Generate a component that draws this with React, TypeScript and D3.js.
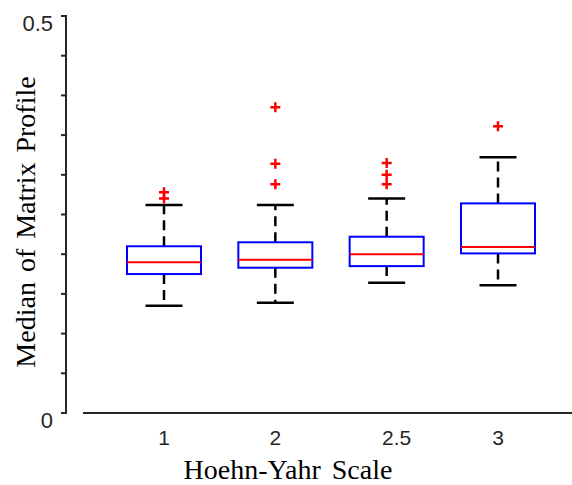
import React, { useEffect, useRef } from "react";
import * as d3 from "d3";

// Hoehn-Yahr stage groups
const categories = ["1", "2", "2.5", "3"];
// box stats
const whiskerLow = [0.135, 0.139, 0.164, 0.161];
const q1 = [0.175, 0.183, 0.185, 0.201];
const medians = [0.19, 0.193, 0.2, 0.209];
const q3 = [0.21, 0.215, 0.222, 0.264];
const whiskerHigh = [0.262, 0.262, 0.27, 0.322];
const outliers = [
  [0.27, 0.278],
  [0.288, 0.314, 0.385],
  [0.288, 0.3, 0.315],
  [0.361],
];
const yTicks = [0, 0.05, 0.1, 0.15, 0.2, 0.25, 0.3, 0.35, 0.4, 0.45, 0.5];
const yTickLabels = ["0", "0.5"];

const App = () => {
  const ref = useRef<SVGSVGElement>(null);

  useEffect(() => {
    const svg = d3.select(ref.current);
    svg.selectAll("*").remove();

    const x = d3.scalePoint().domain(categories).range([164, 498]);
    const y = d3.scaleLinear().domain([0, 0.5]).range([413, 16]);
    const boxW = 74;
    const capW = 37;

    // y axis
    svg
      .append("line")
      .attr("x1", 66)
      .attr("x2", 66)
      .attr("y1", y(0) + 1)
      .attr("y2", y(0.5) - 1)
      .style("stroke", "#262626")
      .style("stroke-width", 2);
    yTicks.forEach((t) => {
      svg
        .append("line")
        .attr("x1", 61)
        .attr("x2", 66)
        .attr("y1", y(t))
        .attr("y2", y(t))
        .style("stroke", "#262626")
        .style("stroke-width", 2);
    });
    svg
      .append("g")
      .selectAll("text")
      .data(yTickLabels)
      .join("text")
      .attr("x", 53)
      .attr("y", (d) => y(+d) + 15)
      .style("text-anchor", "end")
      .style("font-family", "'Liberation Sans', Arial, sans-serif")
      .style("font-size", "22px")
      .style("fill", "#262626")
      .text((d) => d);

    // x axis (offset from the y axis)
    svg
      .append("line")
      .attr("x1", 83)
      .attr("x2", 572)
      .attr("y1", y(0))
      .attr("y2", y(0))
      .style("stroke", "#262626")
      .style("stroke-width", 2);
    svg
      .append("g")
      .selectAll("text")
      .data(categories)
      .join("text")
      .attr("x", (d) => x(d)!)
      .attr("dx", (d) => (d === "2.5" ? 10 : 0)) // label sits a bit right in the original
      .attr("y", 445)
      .style("text-anchor", "middle")
      .style("font-family", "'Liberation Sans', Arial, sans-serif")
      .style("font-size", "21px")
      .style("fill", "#262626")
      .text((d) => d);

    // axis titles
    svg
      .append("text")
      .attr("x", 288)
      .attr("y", 479)
      .style("text-anchor", "middle")
      .style("font-family", "'Liberation Serif', 'Times New Roman', serif")
      .style("font-size", "28px")
      .style("word-spacing", "4px")
      .text("Hoehn-Yahr Scale");
    svg
      .append("text")
      .attr("transform", "translate(35,222) rotate(-90)")
      .style("text-anchor", "middle")
      .style("font-family", "'Liberation Serif', 'Times New Roman', serif")
      .style("font-size", "28px")
      .style("word-spacing", "3px")
      .text("Median of Matrix Profile");

    const groups = svg
      .append("g")
      .selectAll("g")
      .data(categories)
      .join("g")
      .attr("transform", (d) => `translate(${x(d)},0)`);

    // whiskers
    groups
      .append("line")
      .attr("y1", (d, i) => y(q3[i]))
      .attr("y2", (d, i) => y(whiskerHigh[i]))
      .style("stroke", "black")
      .style("stroke-width", 2.5)
      .style("stroke-dasharray", "10,6");
    groups
      .append("line")
      .attr("y1", (d, i) => y(q1[i]))
      .attr("y2", (d, i) => y(whiskerLow[i]))
      .style("stroke", "black")
      .style("stroke-width", 2.5)
      .style("stroke-dasharray", "10,6");
    [whiskerHigh, whiskerLow].forEach((arr) => {
      groups
        .append("line")
        .attr("x1", -capW / 2)
        .attr("x2", capW / 2)
        .attr("y1", (d, i) => y(arr[i]))
        .attr("y2", (d, i) => y(arr[i]))
        .style("stroke", "black")
        .style("stroke-width", 2.5);
    });

    // boxes
    groups
      .append("rect")
      .attr("x", -boxW / 2)
      .attr("width", boxW)
      .attr("y", (d, i) => y(q3[i]))
      .attr("height", (d, i) => y(q1[i]) - y(q3[i]))
      .style("fill", "white")
      .style("stroke", "#0000ff")
      .style("stroke-width", 2);
    groups
      .append("line")
      .attr("x1", -boxW / 2)
      .attr("x2", boxW / 2)
      .attr("y1", (d, i) => y(medians[i]))
      .attr("y2", (d, i) => y(medians[i]))
      .style("stroke", "#ff0000")
      .style("stroke-width", 2);

    // outliers as red +
    groups.each(function (d, i) {
      const g = d3.select(this);
      outliers[i].forEach((v) => {
        g.append("path")
          .attr("d", `M-5,${y(v)}H5M0,${y(v) - 5}V${y(v) + 5}`)
          .style("stroke", "#ff0000")
          .style("stroke-width", 2.5)
          .style("fill", "none");
      });
    });
  }, []);

  return (
    <svg
      ref={ref}
      width={572}
      height={485}
      style={{ position: "absolute", left: 0, top: 0, background: "white" }}
    />
  );
};

export default App;
